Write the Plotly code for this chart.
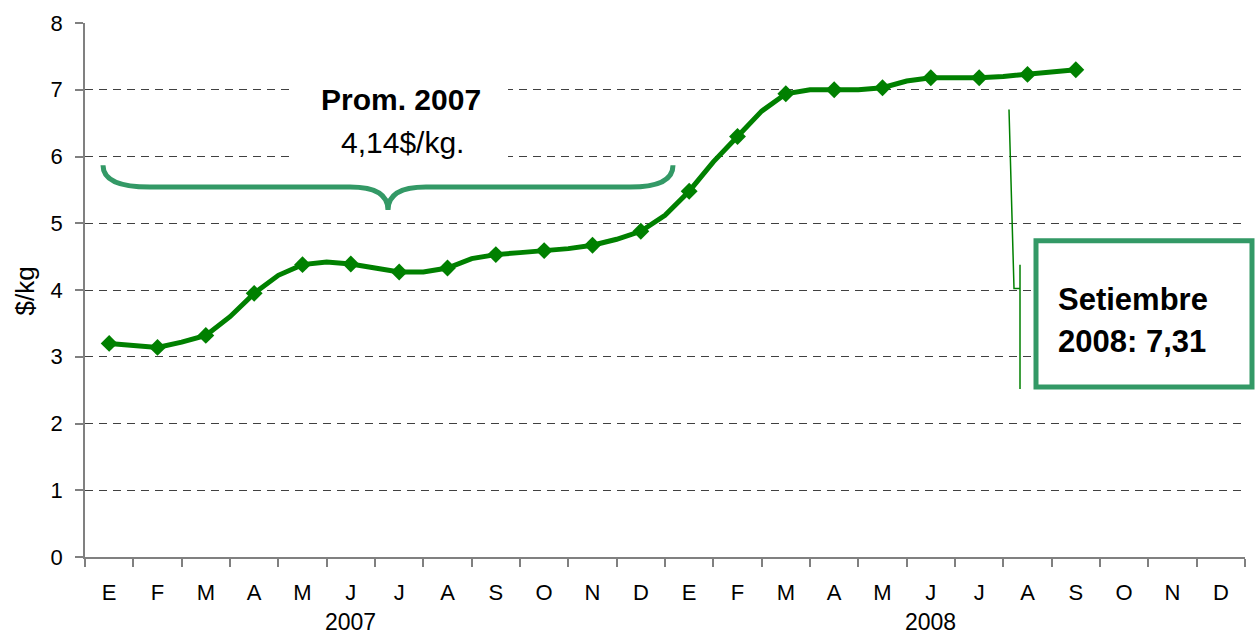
import plotly.graph_objects as go

# ---------------- data ----------------
months = ["E", "F", "M", "A", "M", "J", "J", "A", "S", "O", "N", "D",
          "E", "F", "M", "A", "M", "J", "J", "A", "S", "O", "N", "D"]
years = ["2007", "2008"]
# monthly price ($/kg), E 2007 .. S 2008 (marked points)
monthly_price = [3.20, 3.14, 3.32, 3.95, 4.38, 4.39, 4.27, 4.33, 4.53, 4.59, 4.67, 4.88,
                 5.48, 6.30, 6.94, 7.00, 7.03, 7.18, 7.18, 7.23, 7.30]
# mid-period price between consecutive monthly points (unmarked)
midmonth_price = [3.17, 3.22, 3.60, 4.22, 4.42, 4.33, 4.27, 4.47, 4.56, 4.62, 4.76, 5.12,
                  5.92, 6.68, 7.00, 7.00, 7.13, 7.18, 7.20, 7.26]
y_ticks = [0, 1, 2, 3, 4, 5, 6, 7, 8]
grid_vals = [1, 2, 3, 4, 5, 6, 7]
avg_label = ["Prom. 2007", "4,14$/kg."]
sept_label = ["Setiembre", "2008: 7,31"]

GREEN = "#008000"
TEAL = "#339966"
AXIS = "#808080"
FONT = "Liberation Sans, Arial, sans-serif"

W, H = 1256, 637
L, R, T, B = 85, 11, 20, 80
PW, PH = W - L - R, H - T - B
NCAT = len(months)


def dx(px):
    return (px - L) / PW * NCAT


def dy(py):
    return (T + PH - py) / PH * 8


def paper_x(px):
    return (px - L) / PW


def paper_y(py):
    return (T + PH - py) / PH


# line through monthly + mid-period points
x_line, y_line = [], []
for i, v in enumerate(monthly_price):
    x_line.append(i + 0.5)
    y_line.append(v)
    if i < len(midmonth_price):
        x_line.append(i + 1.0)
        y_line.append(midmonth_price[i])

x_mark = [i + 0.5 for i in range(len(monthly_price))]

fig = go.Figure()
fig.add_trace(go.Scatter(x=x_line, y=y_line, mode="lines",
                         line=dict(color=GREEN, width=5), hoverinfo="skip",
                         showlegend=False))
fig.add_trace(go.Scatter(x=x_mark, y=monthly_price, mode="markers",
                         marker=dict(symbol="diamond", size=13, color=GREEN,
                                     line=dict(width=0)),
                         showlegend=False))

# curly brace over 2007
bp = [(103, 163), (103, 185), (150, 185), (350, 185), (388, 185), (388, 208),
      (388, 185), (426, 185), (630, 185), (673, 185), (673, 163)]
b = [(dx(px), dy(py)) for px, py in bp]
brace = ("M {},{} Q {},{} {},{} L {},{} Q {},{} {},{} Q {},{} {},{} L {},{} Q {},{} {},{}"
         .format(*[c for pt in b for c in pt]))
fig.add_shape(type="path", path=brace, xref="x", yref="y",
              line=dict(color=TEAL, width=5), layer="above")

# white background behind average label
fig.add_shape(type="rect", xref="paper", yref="paper",
              x0=paper_x(293), x1=paper_x(508), y0=paper_y(160), y1=paper_y(78),
              fillcolor="white", line=dict(width=0), layer="above")

# callout box
fig.add_shape(type="rect", xref="paper", yref="paper",
              x0=paper_x(1036), x1=paper_x(1252), y0=paper_y(386), y1=paper_y(239),
              fillcolor="white", line=dict(color=TEAL, width=5), layer="above")

# leader line
lp = [(1009, 107), (1014, 287), (1020, 287)]
lp2 = [(1020, 263), (1020, 388)]
lead = "M {},{} L {},{} L {},{} ".format(*[c for px, py in lp for c in (dx(px), dy(py))])
lead += "M {},{} L {},{}".format(*[c for px, py in lp2 for c in (dx(px), dy(py))])
fig.add_shape(type="path", path=lead, xref="x", yref="y",
              line=dict(color=GREEN, width=1.5), layer="above")

annos = [
    dict(x=paper_x(401), y=paper_y(97), xref="paper", yref="paper",
         text="<b>" + avg_label[0] + "</b>", font=dict(size=30, color="black", family=FONT),
         showarrow=False, xanchor="center", yanchor="middle"),
    dict(x=paper_x(402), y=paper_y(140), xref="paper", yref="paper",
         text=avg_label[1], font=dict(size=30, color="black", family=FONT),
         showarrow=False, xanchor="center", yanchor="middle"),
    dict(x=paper_x(1056), y=paper_y(298), xref="paper", yref="paper",
         text="<b>" + sept_label[0] + "</b>", font=dict(size=31, color="black", family=FONT),
         showarrow=False, xanchor="left", yanchor="middle"),
    dict(x=paper_x(1056), y=paper_y(340), xref="paper", yref="paper",
         text="<b>" + sept_label[1] + "</b>", font=dict(size=31, color="black", family=FONT),
         showarrow=False, xanchor="left", yanchor="middle"),
    dict(x=paper_x(25), y=paper_y(290), xref="paper", yref="paper",
         text="$/kg", textangle=-90, font=dict(size=26, color="black", family=FONT),
         showarrow=False, xanchor="center", yanchor="middle"),
]
for k, yr in enumerate(years):
    annos.append(dict(x=5.5 + 12 * k, y=paper_y(622), xref="x", yref="paper",
                      text=yr, font=dict(size=23, color="black", family=FONT),
                      showarrow=False, xanchor="center", yanchor="middle"))

fig.update_layout(
    width=W, height=H,
    margin=dict(l=L, r=R, t=T, b=B, pad=0),
    paper_bgcolor="white", plot_bgcolor="white",
    font=dict(family=FONT, size=22, color="black"),
    annotations=annos,
    showlegend=False,
)
fig.update_xaxes(
    range=[0, NCAT], tickmode="array",
    tickvals=[i + 0.5 for i in range(NCAT)], ticktext=months,
    ticks="", showgrid=False, zeroline=False,
    showline=True, linecolor=AXIS, linewidth=1.5,
    tickfont=dict(size=22, family=FONT, color="black"),
    ticklabelstandoff=15,
    minor=dict(tickmode="array", tickvals=list(range(NCAT + 1)), ticks="outside",
               ticklen=8, tickcolor=AXIS, tickwidth=1.5, showgrid=False),
)
fig.update_yaxes(
    range=[0, 8], tickmode="array", tickvals=y_ticks,
    ticks="outside", ticklen=8, tickcolor=AXIS, tickwidth=1.5,
    showline=True, linecolor=AXIS, linewidth=1.5,
    showgrid=False, zeroline=False,
    tickfont=dict(size=22, family=FONT, color="black"),
    ticklabelstandoff=8,
    minor=dict(tickmode="array", tickvals=grid_vals, ticks="", showgrid=True,
               gridcolor="#404040", gridwidth=1, griddash="8px,6px"),
)

fig.write_html(
    "out.html",
    config={"displayModeBar": False},
    post_script="document.body.style.margin='0';document.body.style.overflow='hidden';",
)
